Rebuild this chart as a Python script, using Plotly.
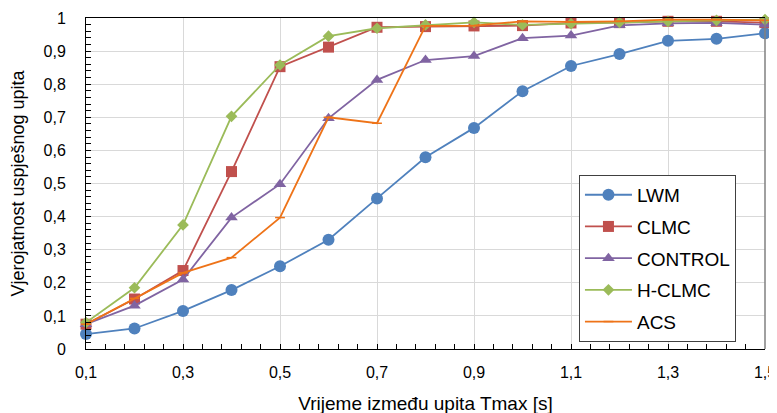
import plotly.graph_objects as go

x_vals = [0.1, 0.2, 0.3, 0.4, 0.5, 0.6, 0.7, 0.8, 0.9, 1.0, 1.1, 1.2, 1.3, 1.4, 1.5]

lwm = [0.045, 0.062, 0.115, 0.178, 0.25, 0.33, 0.455, 0.579, 0.668, 0.779, 0.855, 0.891, 0.931, 0.937, 0.954]
clmc = [0.075, 0.151, 0.237, 0.536, 0.853, 0.912, 0.972, 0.974, 0.976, 0.977, 0.985, 0.986, 0.99, 0.99, 0.986]
control = [0.075, 0.131, 0.21, 0.397, 0.498, 0.697, 0.813, 0.873, 0.885, 0.939, 0.947, 0.978, 0.984, 0.985, 0.98]
hclmc = [0.08, 0.185, 0.375, 0.703, 0.858, 0.945, 0.969, 0.979, 0.987, 0.979, 0.983, 0.987, 0.99, 0.993, 0.995]
acs = [0.075, 0.153, 0.23, 0.276, 0.397, 0.7, 0.682, 0.976, 0.977, 0.99, 0.988, 0.99, 0.995, 0.995, 0.993]

names = ["LWM", "CLMC", "CONTROL", "H-CLMC", "ACS"]
series = [lwm, clmc, control, hclmc, acs]
colors = ["#4F81BD", "#C0504D", "#8064A2", "#9BBB59", "#EE7318"]
symbols = ["circle", "square", "triangle-up", "diamond", "line-ew"]
sizes = [12, 11, 11, 9, 7]

y_ticks = [0, 0.1, 0.2, 0.3, 0.4, 0.5, 0.6, 0.7, 0.8, 0.9, 1.0]
x_ticks = [0.1, 0.3, 0.5, 0.7, 0.9, 1.1, 1.3, 1.5]

font_family = "Liberation Sans"

fig = go.Figure()
for n, s, c, sym, sz in zip(names, series, colors, symbols, sizes):
    fig.add_trace(go.Scatter(
        x=x_vals, y=s, name=n, mode="lines+markers", legendgroup=n,
        line=dict(color=c, width=1.8),
        marker=dict(symbol=sym, size=sz, color=c,
                    line=dict(color=c, width=1.5 if sym == "line-ew" else 0)),
        cliponaxis=False,
    ))

fig.update_layout(
    width=777, height=413,
    margin=dict(l=78, r=20, t=10, b=72),
    paper_bgcolor="white", plot_bgcolor="white",
    separators=", ",
    font=dict(family=font_family, size=16, color="black"),
    legend=dict(
        x=0.726, y=0.526, xanchor="left", yanchor="top",
        bgcolor="white", bordercolor="#404040", borderwidth=1,
        font=dict(size=19, family=font_family),
        tracegroupgap=4, itemwidth=47, entrywidth=118,
    ),
    showlegend=True,
)

fig.update_xaxes(
    range=[0.1, 1.5], tickvals=x_ticks, automargin=False,
    ticklabeloverflow="allow",
    showgrid=True, gridcolor="#D9D9D9", gridwidth=1,
    showline=True, linecolor="black", linewidth=1, mirror=True,
    ticks="inside", ticklen=5, tickcolor="black",
    minor=dict(ticks="inside", dtick=0.04, tick0=0.1, ticklen=5, tickcolor="black", showgrid=False),
    zeroline=False,
    title=dict(text="Vrijeme između upita Tmax [s]", font=dict(size=19), standoff=16),
    ticklabelstandoff=9,
)
fig.update_yaxes(
    range=[0, 1], tickvals=y_ticks, automargin=False,
    showgrid=True, gridcolor="#D9D9D9", gridwidth=1,
    showline=True, linecolor="black", linewidth=1,
    ticks="inside", ticklen=5, tickcolor="black",
    minor=dict(ticks="inside", dtick=0.02, ticklen=5, tickcolor="black", showgrid=False),
    zeroline=False,
    title=dict(text="Vjerojatnost uspješnog upita", font=dict(size=18), standoff=21),
    ticklabelstandoff=16,
)

fig.add_shape(type="line", xref="paper", yref="paper", x0=1, x1=1, y0=0, y1=1,
              line=dict(color="#808080", width=1.5))

fig.write_html("out.html")
